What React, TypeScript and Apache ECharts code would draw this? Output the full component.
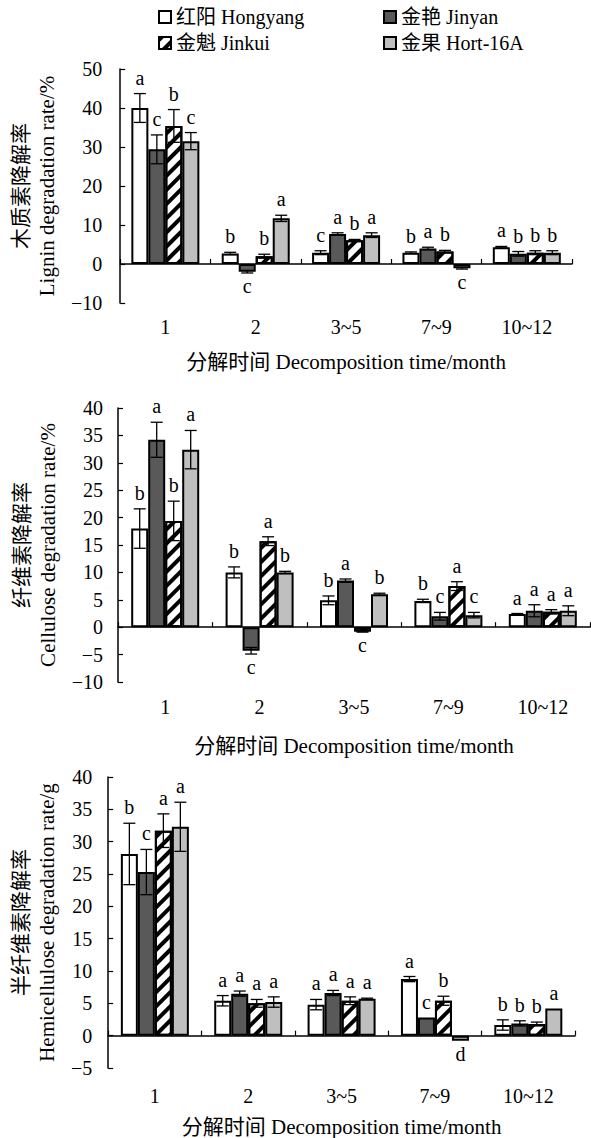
import React, { useEffect, useRef } from "react";
import * as echarts from "echarts";

const FONT = "'Liberation Serif', 'Times New Roman', 'Noto Sans CJK SC', serif";

const categories = ["1", "2", "3~5", "7~9", "10~12"];
const seriesNames = ["红阳 Hongyang", "金艳 Jinyan", "金魁 Jinkui", "金果 Hort-16A"];

// Lignin degradation rate (%)
const ligninHongyang = [40.0, 2.7, 2.9, 2.9, 4.3];
const ligninJinyan = [29.4, -2.0, 7.7, 4.0, 2.6];
const ligninJinkui = [35.4, 2.0, 6.1, 3.2, 2.9];
const ligninHort = [31.5, 11.7, 7.4, -1.1, 2.9];
const ligninErrHongyang = [3.7, 0.3, 0.5, 0.2, 0.2];
const ligninErrJinyan = [3.7, 0.3, 0.3, 0.3, 0.6];
const ligninErrJinkui = [4.2, 0.5, 0.2, 0.3, 0.5];
const ligninErrHort = [2.2, 0.8, 0.6, 0.2, 0.5];
const ligninLetHongyang = ["a", "b", "c", "b", "a"];
const ligninLetJinyan = ["c", "c", "a", "a", "b"];
const ligninLetJinkui = ["b", "b", "b", "b", "b"];
const ligninLetHort = ["c", "a", "a", "c", "b"];

// Cellulose degradation rate (%)
const celluloseHongyang = [18.0, 10.0, 4.9, 4.8, 2.4];
const celluloseJinyan = [34.2, -4.3, 8.5, 2.0, 3.0];
const celluloseJinkui = [19.4, 15.7, -0.8, 7.5, 2.8];
const celluloseHort = [32.4, 10.0, 6.0, 2.2, 3.0];
const celluloseErrHongyang = [3.6, 1.0, 0.8, 0.3, 0.1];
const celluloseErrJinyan = [3.2, 0.6, 0.3, 0.7, 1.1];
const celluloseErrJinkui = [3.6, 0.8, 0.1, 0.8, 0.4];
const celluloseErrHort = [3.5, 0.2, 0.2, 0.5, 0.9];
const celluloseLetHongyang = ["b", "b", "b", "b", "a"];
const celluloseLetJinyan = ["a", "c", "a", "c", "a"];
const celluloseLetJinkui = ["b", "a", "c", "a", "a"];
const celluloseLetHort = ["a", "b", "b", "c", "a"];

// Hemicellulose degradation rate
const hemiHongyang = [28.1, 5.4, 4.8, 8.75, 1.65];
const hemiJinyan = [25.3, 6.5, 6.6, 2.8, 1.9];
const hemiJinkui = [31.7, 5.0, 5.4, 5.4, 1.8];
const hemiHort = [32.3, 5.2, 5.7, -0.8, 4.2];
const hemiErrHongyang = [4.75, 0.8, 0.8, 0.4, 0.8];
const hemiErrJinyan = [3.5, 0.4, 0.4, 0, 0.4];
const hemiErrJinkui = [2.6, 0.6, 0.6, 0.7, 0.3];
const hemiErrHort = [3.8, 0.8, 0.1, 0, 0];
const hemiLetHongyang = ["b", "a", "a", "a", "b"];
const hemiLetJinyan = ["c", "a", "a", "c", "b"];
const hemiLetJinkui = ["a", "a", "a", "b", "b"];
const hemiLetHort = ["a", "a", "a", "d", "a"];

const yNameLignin = "木质素降解率\nLignin degradation rate/%";
const yNameCellulose = "纤维素降解率\nCellulose degradation rate/%";
const yNameHemi = "半纤维素降解率\nHemicellulose degradation rate/g";
const xName = "分解时间 Decomposition time/month";

const fills = ["#ffffff", "#595959", "#ffffff", "#bfbfbf"];
const BAR_W = 17;
const FS = 20;

const panels = [
  {
    values: [ligninHongyang, ligninJinyan, ligninJinkui, ligninHort],
    errors: [ligninErrHongyang, ligninErrJinyan, ligninErrJinkui, ligninErrHort],
    letters: [ligninLetHongyang, ligninLetJinyan, ligninLetJinkui, ligninLetHort],
    min: -10, max: 50, interval: 10, yName: yNameLignin,
    left: 112, top: 69, width: 460, height: 234,
    yNameGap: 53, tickMargin: 18, labelMargin: 14, xNameGap: 48,
  },
  {
    values: [celluloseHongyang, celluloseJinyan, celluloseJinkui, celluloseHort],
    errors: [celluloseErrHongyang, celluloseErrJinyan, celluloseErrJinkui, celluloseErrHort],
    letters: [celluloseLetHongyang, celluloseLetJinyan, celluloseLetJinkui, celluloseLetHort],
    min: -10, max: 40, interval: 5, yName: yNameCellulose,
    left: 118, top: 408, width: 472, height: 274,
    yNameGap: 57, tickMargin: 15, labelMargin: 15, xNameGap: 53,
  },
  {
    values: [hemiHongyang, hemiJinyan, hemiJinkui, hemiHort],
    errors: [hemiErrHongyang, hemiErrJinyan, hemiErrJinkui, hemiErrHort],
    letters: [hemiLetHongyang, hemiLetJinyan, hemiLetJinkui, hemiLetHort],
    min: -5, max: 40, interval: 5, yName: yNameHemi,
    left: 108, top: 777, width: 467, height: 291,
    yNameGap: 48, tickMargin: 16, labelMargin: 18, xNameGap: 48,
  },
];

const decal = {
  symbol: "rect",
  symbolSize: 1,
  dashArrayX: [1, 0],
  dashArrayY: [4, 6],
  rotation: -Math.PI / 4,
  color: "#000000",
};

function buildOption() {
  const grid: any[] = [];
  const xAxis: any[] = [];
  const yAxis: any[] = [];
  const series: any[] = [];

  panels.forEach((p, i) => {
    grid.push({ left: p.left, top: p.top, width: p.width, height: p.height, containLabel: false });
    xAxis.push({
      type: "category",
      gridIndex: i,
      data: categories,
      position: "bottom",
      axisLine: { show: true, onZero: true, lineStyle: { color: "#000", width: 1.5 } },
      axisTick: { show: true, inside: true, length: 5, lineStyle: { color: "#000", width: 1.2 } },
      axisLabel: { show: false },
      splitLine: { show: false },
    });
    xAxis.push({
      type: "category",
      gridIndex: i,
      data: categories,
      position: "bottom",
      axisLine: { show: false, onZero: false },
      axisTick: { show: false },
      axisLabel: { show: true, margin: p.labelMargin, fontSize: FS, fontFamily: FONT, color: "#000" },
      splitLine: { show: false },
      name: xName,
      nameLocation: "middle",
      nameGap: p.xNameGap,
      nameTextStyle: { fontSize: 21, fontFamily: FONT, color: "#000" },
    });
    yAxis.push({
      type: "value",
      gridIndex: i,
      min: p.min,
      max: p.max,
      interval: p.interval,
      axisLine: { show: true, lineStyle: { color: "#000", width: 1.5 } },
      axisTick: { show: true, inside: true, length: 5, lineStyle: { color: "#000", width: 1.2 } },
      axisLabel: {
        fontSize: FS, fontFamily: FONT, color: "#000", margin: p.tickMargin,
        formatter: (v: number) => (v < 0 ? "\u2212" + Math.abs(v) : String(v)),
      },
      splitLine: { show: false },
      name: p.yName,
      nameLocation: "middle",
      nameRotate: 90,
      nameGap: p.yNameGap,
      nameTextStyle: { fontSize: 21, fontFamily: FONT, color: "#000", lineHeight: 26 },
    });

    p.values.forEach((vals, s) => {
      series.push({
        type: "bar",
        name: seriesNames[s],
        xAxisIndex: 2 * i,
        yAxisIndex: i,
        data: vals,
        barWidth: BAR_W,
        barGap: "0%",
        itemStyle: {
          color: fills[s],
          borderColor: "#000",
          borderWidth: 2,
          ...(s === 2 ? { decal } : {}),
        },
        emphasis: { disabled: true },
      });
    });

    const errData: number[][] = [];
    const errLetters: string[] = [];
    p.values.forEach((vals, s) => {
      vals.forEach((v, c) => {
        errData.push([c, s, v, p.errors[s][c]]);
        errLetters.push(p.letters[s][c]);
      });
    });

    series.push({
      type: "custom",
      xAxisIndex: 2 * i,
      yAxisIndex: i,
      data: errData,
      z: 10,
      silent: true,
      renderItem: (params: any, api: any) => {
        const c = api.value(0);
        const s = api.value(1);
        const v = api.value(2);
        const e = api.value(3);
        const center = api.coord([c, v]);
        const zero = api.coord([c, 0]);
        const x = center[0] + (s - 1.5) * BAR_W;
        const yTop = api.coord([c, v + e])[1];
        const yBot = api.coord([c, v - e])[1];
        const children: any[] = [];
        const ls = { stroke: "#000", lineWidth: 1.3 };
        if (e > 0) {
          children.push({ type: "line", shape: { x1: x, y1: yTop, x2: x, y2: yBot }, style: ls });
          children.push({ type: "line", shape: { x1: x - 6, y1: yTop, x2: x + 6, y2: yTop }, style: ls });
          children.push({ type: "line", shape: { x1: x - 6, y1: yBot, x2: x + 6, y2: yBot }, style: ls });
        }
        const letter = errLetters[params.dataIndex];
        if (v >= 0) {
          const y = Math.min(yTop, center[1], zero[1]) - 6;
          children.push({
            type: "text", x, y,
            style: { text: letter, textAlign: "center", textVerticalAlign: "bottom", fill: "#000", font: `${FS}px ${FONT}` },
          });
        } else {
          const y = Math.max(yBot, center[1]) + 3;
          children.push({
            type: "text", x, y,
            style: { text: letter, textAlign: "center", textVerticalAlign: "top", fill: "#000", font: `${FS}px ${FONT}` },
          });
        }
        return { type: "group", children };
      },
    });
  });

  const legendBase = {
    orient: "horizontal",
    padding: 0,
    itemWidth: 12,
    itemHeight: 12,
    icon: "rect",
    selectedMode: false,
    itemStyle: { borderColor: "#000", borderWidth: 2 },
    textStyle: { fontSize: FS, fontFamily: FONT, color: "#000" },
  };
  const legend = [
    { ...legendBase, data: [seriesNames[0]], left: 158, top: 7 },
    { ...legendBase, data: [seriesNames[1]], left: 383, top: 7 },
    { ...legendBase, data: [seriesNames[2]], left: 158, top: 33 },
    { ...legendBase, data: [seriesNames[3]], left: 383, top: 33 },
  ];

  return {
    animation: false,
    backgroundColor: "#ffffff",
    textStyle: { fontFamily: FONT },
    legend,
    grid,
    xAxis,
    yAxis,
    series,
  };
}

export default function App() {
  const ref = useRef<HTMLDivElement>(null);
  useEffect(() => {
    if (!ref.current) return;
    const chart = echarts.init(ref.current, null, { renderer: "svg" });
    chart.setOption(buildOption() as any);
    return () => chart.dispose();
  }, []);
  return (
    <div
      ref={ref}
      style={{ position: "absolute", left: 0, top: 0, width: 591, height: 1138, background: "#fff" }}
    />
  );
}
